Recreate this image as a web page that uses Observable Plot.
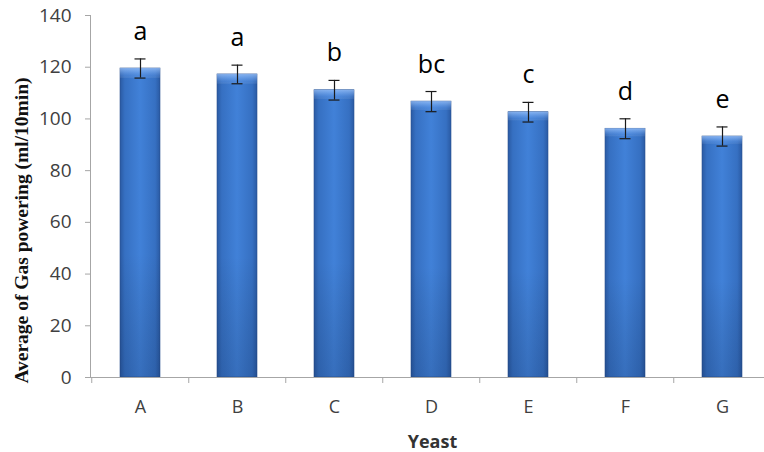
<!DOCTYPE html>
<html>
<head>
<meta charset="utf-8">
<script src="https://cdn.jsdelivr.net/npm/d3@7"></script>
<script src="https://cdn.jsdelivr.net/npm/@observablehq/plot@0.6"></script>
<style>
  html, body { margin: 0; padding: 0; background: #fff; overflow: hidden; }
  #chart { width: 764px; height: 452px; overflow: hidden; }
</style>
</head>
<body>
<div id="chart"></div>
<script>
const categories = ["A", "B", "C", "D", "E", "F", "G"];
const means = [119.5, 117.2, 111.1, 106.7, 102.6, 96.2, 93.2];
const errors = [3.7, 3.6, 3.8, 3.9, 3.8, 3.85, 3.7];
const letters = ["a", "a", "b", "bc", "c", "d", "e"];
const yTicks = [0, 20, 40, 60, 80, 100, 120, 140];
const yLabel = "Average of Gas powering (ml/10min)";
const xLabel = "Yeast";

const data = categories.map((c, i) => ({cat: c, mean: means[i], err: errors[i], letter: letters[i]}));

const W = 764, H = 452;
const mL = 90, mT = 15, mB = 75;
const step = 97.5;
const xRange = [mL, mL + step * categories.length];

const defs = () => {
  const d = d3.create("svg:defs");
  const g = d.append("linearGradient").attr("id", "barH").attr("x1", 0).attr("x2", 1).attr("y1", 0).attr("y2", 0);
  [[0, "#2a5aa3"], [0.12, "#3670c2"], [0.5, "#4181d8"], [0.88, "#3670c2"], [1, "#2a5aa3"]]
    .forEach(([o, c]) => g.append("stop").attr("offset", o).attr("stop-color", c));
  const v = d.append("linearGradient").attr("id", "barV").attr("x1", 0).attr("x2", 0).attr("y1", 0).attr("y2", 1);
  [[0, "#a8ccff", 0.7], [0.012, "#8fbcfa", 0.5], [0.026, "#6fa3ee", 0.25], [0.034, "#ffffff", 0], [0.6, "#000000", 0], [1, "#001030", 0.16]]
    .forEach(([o, c, a]) => v.append("stop").attr("offset", o).attr("stop-color", c).attr("stop-opacity", a));
  return d.node();
};

const chart = Plot.plot({
  width: W,
  height: H,
  marginLeft: mL,
  marginRight: 0,
  marginTop: mT,
  marginBottom: mB,
  style: {background: "#fff", overflow: "hidden"},
  x: {domain: categories, range: xRange, paddingInner: 0.59, paddingOuter: 0.295, label: null},
  y: {domain: [0, 140], label: null},
  marks: [
    defs,
    Plot.barY(data, {x: "cat", y: "mean", fill: "url(#barH)", stroke: "#2b528f", strokeWidth: 0.6}),
    Plot.barY(data, {x: "cat", y: "mean", fill: "url(#barV)"}),
    Plot.frame({anchor: "left", stroke: "#a6a6a6", strokeOpacity: 1}),
    Plot.ruleY([0], {stroke: "#a6a6a6"}),
    Plot.axisY({ticks: yTicks, tickSize: 5, tickPadding: 14, fontSize: 19, fontFamily: "Open Sans", color: "#404040", stroke: "#a6a6a6", label: null}),
    Plot.axisX({ticks: categories, tickSize: 6, tickFormat: () => "", dx: -step / 2, stroke: "#a6a6a6", label: null}),
    Plot.axisX({ticks: categories, tickSize: 0, tickPadding: 23, fontSize: 18, fontFamily: "Open Sans", color: "#404040", label: null}),
    Plot.ruleX(data, {x: "cat", y1: d => d.mean - d.err, y2: d => d.mean + d.err, stroke: "#1a1a1a", strokeWidth: 1.2}),
    Plot.tickY(data, {x: "cat", y: d => d.mean + d.err, stroke: "#1a1a1a", strokeWidth: 1.2, insetLeft: 14.5, insetRight: 14.5}),
    Plot.tickY(data, {x: "cat", y: d => d.mean - d.err, stroke: "#1a1a1a", strokeWidth: 1.2, insetLeft: 14.5, insetRight: 14.5}),
    Plot.text(data, {x: "cat", y: d => d.mean + d.err, text: "letter", dy: -19, lineAnchor: "bottom", fontSize: 25, fontFamily: "Open Sans", fill: "#000"}),
    Plot.text([yLabel], {frameAnchor: "left", textAnchor: "middle", rotate: -90, dx: -69, dy: 34, fontSize: 19.5, fontWeight: "bold", fontFamily: "Liberation Serif", fill: "#111"}),
    Plot.text([xLabel], {frameAnchor: "bottom", dx: 5, dy: 70, lineAnchor: "bottom", fontSize: 18, fontWeight: "bold", fontFamily: "Open Sans", fill: "#333"})
  ]
});

document.getElementById("chart").appendChild(chart);
</script>
</body>
</html>
